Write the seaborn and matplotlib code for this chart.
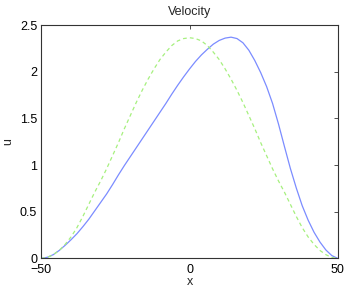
import matplotlib
matplotlib.use("Agg")
import matplotlib.pyplot as plt
import seaborn as sns
import pandas as pd

# values
blue_x = [-50, -48, -46, -44, -42, -40, -38, -36, -34, -32, -30, -28, -26, -24, -22, -20,
          -18, -16, -14, -12, -10, -8, -6, -4, -2, 0, 2, 4, 6, 8, 10, 12, 14, 16, 18,
          20, 22, 24, 26, 28, 30, 32, 34, 36, 38, 40, 42, 44, 46, 48, 50]
blue_u = [0, 0.012, 0.04, 0.085, 0.14, 0.2, 0.265, 0.34, 0.42, 0.51, 0.6, 0.69, 0.79, 0.895, 0.995, 1.09,
          1.185, 1.28, 1.375, 1.47, 1.565, 1.66, 1.76, 1.855, 1.945, 2.03, 2.11, 2.18, 2.24, 2.295, 2.335, 2.36, 2.37, 2.355, 2.31,
          2.23, 2.12, 1.99, 1.84, 1.66, 1.44, 1.20, 0.965, 0.755, 0.565, 0.41, 0.28, 0.175, 0.09, 0.03, 0]
green_x = [-50, -48, -46, -44, -42, -40, -38, -36, -34, -32, -30, -28, -26, -24, -22, -20, -18,
           -16, -14, -12, -10, -8, -6, -4, -2, 0, 2, 4, 6, 8, 10, 12, 14, 16, 18, 20, 22,
           24, 26, 28, 30, 32, 34, 36, 38, 40, 42, 44, 46, 48, 50]
green_u = [0, 0.01, 0.04, 0.085, 0.15, 0.23, 0.33, 0.45, 0.58, 0.71, 0.83, 0.96, 1.10, 1.24, 1.39, 1.53, 1.67,
           1.80, 1.92, 2.03, 2.13, 2.21, 2.28, 2.33, 2.355, 2.364, 2.355, 2.33, 2.28, 2.21, 2.13, 2.03, 1.92, 1.80, 1.67, 1.53, 1.39,
           1.24, 1.10, 0.96, 0.83, 0.71, 0.58, 0.45, 0.33, 0.23, 0.15, 0.085, 0.04, 0.01, 0]

df_b = pd.DataFrame({"x": blue_x, "u": blue_u})
df_g = pd.DataFrame({"x": green_x, "u": green_u})

sns.set_theme(style="white")
plt.rcParams["font.family"] = ["Liberation Sans", "DejaVu Sans"]

fig = plt.figure(figsize=(3.45, 2.91), dpi=100)
ax = fig.add_axes([0.120, 0.112, 0.859, 0.802])

sns.lineplot(data=df_b, x="x", y="u", ax=ax, color="#7b8cff", linewidth=0.9, sort=False)
sns.lineplot(data=df_g, x="x", y="u", ax=ax, color="#a6f07e", linewidth=0.9, sort=False,
             linestyle=(0, (3, 2.5)))

ax.set_xlim(-50, 50)
ax.set_ylim(0, 2.5)
ax.set_xticks([-50, 0, 50])
ax.set_xticklabels(["\u221250", "0", "50"])
ax.set_yticks([0, 0.5, 1, 1.5, 2, 2.5])
ax.set_yticklabels(["0", "0.5", "1", "1.5", "2", "2.5"])
ax.tick_params(direction="in", length=3, width=0.6, colors="#333333", labelcolor="black",
               labelsize=9, top=True, right=True)
ax.tick_params(axis="x", pad=4)
ax.tick_params(axis="y", pad=3)
for s in ax.spines.values():
    s.set_color("#333333")
    s.set_linewidth(0.8)

ax.set_title("Velocity", fontsize=9, pad=7)
ax.set_xlabel("x", fontsize=9, labelpad=0)
ax.set_ylabel("u", fontsize=9, labelpad=4)

fig.savefig("out.png", dpi=100)
